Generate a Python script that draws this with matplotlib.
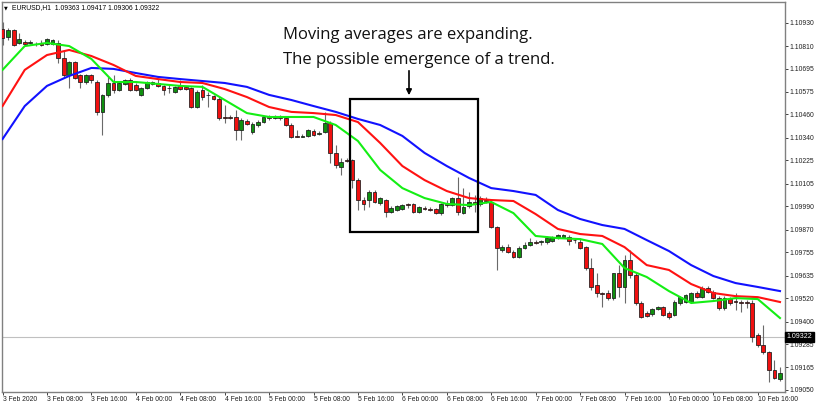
import matplotlib
matplotlib.use('Agg')
import matplotlib.pyplot as plt
import matplotlib.transforms as mtransforms
from matplotlib.patches import Rectangle

# EURUSD H1, 3 Feb 2020 00:00 .. 10 Feb 2020 20:00 (one bar per hour)
opens = [
    1.10898, 1.10857, 1.10892, 1.10826, 1.10831, 1.10828, 1.10821, 1.10826, 1.10821, 1.10821,
    1.10826, 1.10749, 1.10662, 1.10729, 1.10662, 1.10626, 1.10662, 1.10626, 1.10473, 1.10560,
    1.10621, 1.10585, 1.10616, 1.10636, 1.10611, 1.10560, 1.10595, 1.10616, 1.10621, 1.10606,
    1.10595, 1.10575, 1.10606, 1.10601, 1.10595, 1.10498, 1.10585, 1.10560, 1.10554, 1.10539,
    1.10447, 1.10447, 1.10447, 1.10380, 1.10426, 1.10370, 1.10406, 1.10421, 1.10447, 1.10444,
    1.10447, 1.10442, 1.10406, 1.10350, 1.10347, 1.10350, 1.10375, 1.10362, 1.10370, 1.10416,
    1.10263, 1.10191, 1.10227, 1.10227, 1.10124, 1.10022, 1.10022, 1.10063, 1.10007, 1.10022,
    1.09961, 1.09971, 1.09976, 1.10002, 1.10002, 1.09961, 1.09981, 1.09976, 1.09976, 1.09955,
    1.10002, 1.09996, 1.10032, 1.09955, 1.09991, 1.10012, 1.10002, 1.10022, 1.10012, 1.09884,
    1.09766, 1.09781, 1.09756, 1.09730, 1.09776, 1.09792, 1.09807, 1.09807, 1.09807, 1.09812,
    1.09827, 1.09833, 1.09833, 1.09817, 1.09807, 1.09781, 1.09674, 1.09587, 1.09546, 1.09546,
    1.09520, 1.09648, 1.09577, 1.09715, 1.09638, 1.09495, 1.09443, 1.09438, 1.09464, 1.09474,
    1.09443, 1.09433, 1.09495, 1.09500, 1.09500, 1.09546, 1.09525, 1.09571, 1.09551, 1.09520,
    1.09469, 1.09515, 1.09505, 1.09500, 1.09500, 1.09495, 1.09331, 1.09280, 1.09244, 1.09152,
    1.09106,
]
highs = [
    1.10933, 1.10903, 1.10898, 1.10877, 1.10841, 1.10841, 1.10831, 1.10841, 1.10851, 1.10846,
    1.10841, 1.10790, 1.10734, 1.10734, 1.10667, 1.10667, 1.10667, 1.10636, 1.10565, 1.10652,
    1.10662, 1.10626, 1.10641, 1.10647, 1.10621, 1.10601, 1.10631, 1.10631, 1.10641, 1.10611,
    1.10611, 1.10606, 1.10636, 1.10606, 1.10601, 1.10585, 1.10611, 1.10575, 1.10560, 1.10549,
    1.10508, 1.10457, 1.10483, 1.10442, 1.10437, 1.10421, 1.10432, 1.10452, 1.10457, 1.10457,
    1.10457, 1.10452, 1.10416, 1.10380, 1.10360, 1.10385, 1.10385, 1.10375, 1.10473, 1.10426,
    1.10304, 1.10237, 1.10237, 1.10232, 1.10135, 1.10037, 1.10073, 1.10073, 1.10037, 1.10027,
    1.09991, 1.09996, 1.10002, 1.10007, 1.10007, 1.09991, 1.09991, 1.09986, 1.09981, 1.10007,
    1.10022, 1.10037, 1.10140, 1.10083, 1.10063, 1.10048, 1.10043, 1.10037, 1.10022, 1.09889,
    1.09792, 1.09797, 1.09766, 1.09786, 1.09807, 1.09827, 1.09817, 1.09817, 1.09838, 1.09838,
    1.09848, 1.09848, 1.09843, 1.09827, 1.09827, 1.09786, 1.09725, 1.09648, 1.09551, 1.09561,
    1.09648, 1.09689, 1.09740, 1.09766, 1.09648, 1.09505, 1.09454, 1.09469, 1.09479, 1.09479,
    1.09454, 1.09510, 1.09530, 1.09541, 1.09551, 1.09556, 1.09582, 1.09582, 1.09561, 1.09530,
    1.09530, 1.09525, 1.09546, 1.09510, 1.09510, 1.09510, 1.09341, 1.09382, 1.09249, 1.09203,
    1.09167,
]
lows = [
    1.10816, 1.10841, 1.10810, 1.10821, 1.10816, 1.10821, 1.10810, 1.10810, 1.10816, 1.10816,
    1.10723, 1.10647, 1.10595, 1.10641, 1.10595, 1.10616, 1.10621, 1.10457, 1.10355, 1.10549,
    1.10570, 1.10580, 1.10611, 1.10580, 1.10580, 1.10554, 1.10590, 1.10611, 1.10601, 1.10560,
    1.10570, 1.10570, 1.10585, 1.10585, 1.10493, 1.10493, 1.10534, 1.10498, 1.10534, 1.10432,
    1.10416, 1.10437, 1.10329, 1.10329, 1.10406, 1.10360, 1.10396, 1.10416, 1.10432, 1.10437,
    1.10432, 1.10401, 1.10339, 1.10345, 1.10345, 1.10345, 1.10350, 1.10355, 1.10365, 1.10211,
    1.10186, 1.10150, 1.10217, 1.10083, 1.09971, 1.09971, 1.09986, 1.10007, 1.09996, 1.09935,
    1.09955, 1.09966, 1.09971, 1.09981, 1.09955, 1.09955, 1.09971, 1.09966, 1.09950, 1.09945,
    1.09986, 1.09991, 1.09945, 1.09950, 1.09981, 1.09961, 1.09991, 1.10007, 1.09879, 1.09664,
    1.09756, 1.09751, 1.09725, 1.09725, 1.09771, 1.09786, 1.09797, 1.09792, 1.09797, 1.09807,
    1.09822, 1.09827, 1.09792, 1.09802, 1.09771, 1.09664, 1.09561, 1.09525, 1.09474, 1.09510,
    1.09510, 1.09525, 1.09495, 1.09623, 1.09484, 1.09418, 1.09423, 1.09428, 1.09459, 1.09428,
    1.09413, 1.09428, 1.09484, 1.09495, 1.09495, 1.09520, 1.09520, 1.09546, 1.09515, 1.09459,
    1.09459, 1.09484, 1.09459, 1.09449, 1.09469, 1.09295, 1.09269, 1.09234, 1.09090, 1.09106,
    1.09095,
]
closes = [
    1.10851, 1.10892, 1.10816, 1.10846, 1.10821, 1.10831, 1.10818, 1.10813, 1.10846, 1.10841,
    1.10749, 1.10662, 1.10729, 1.10647, 1.10626, 1.10662, 1.10636, 1.10473, 1.10560, 1.10621,
    1.10585, 1.10621, 1.10636, 1.10585, 1.10585, 1.10595, 1.10626, 1.10626, 1.10606, 1.10585,
    1.10593, 1.10601, 1.10590, 1.10590, 1.10498, 1.10575, 1.10549, 1.10557, 1.10539, 1.10442,
    1.10444, 1.10444, 1.10380, 1.10432, 1.10411, 1.10411, 1.10421, 1.10447, 1.10444, 1.10447,
    1.10444, 1.10406, 1.10345, 1.10347, 1.10350, 1.10380, 1.10355, 1.10365, 1.10416, 1.10263,
    1.10201, 1.10217, 1.10224, 1.10124, 1.10022, 1.10002, 1.10063, 1.10012, 1.10032, 1.09961,
    1.09981, 1.09991, 1.09996, 1.09999, 1.09961, 1.09986, 1.09978, 1.09973, 1.09955, 1.10002,
    1.09999, 1.10032, 1.09961, 1.09986, 1.10012, 1.10002, 1.10032, 1.10019, 1.09884, 1.09776,
    1.09781, 1.09756, 1.09730, 1.09776, 1.09792, 1.09807, 1.09804, 1.09810, 1.09827, 1.09833,
    1.09843, 1.09843, 1.09812, 1.09815, 1.09776, 1.09674, 1.09577, 1.09546, 1.09541, 1.09520,
    1.09648, 1.09577, 1.09715, 1.09638, 1.09495, 1.09423, 1.09428, 1.09464, 1.09474, 1.09433,
    1.09423, 1.09500, 1.09525, 1.09536, 1.09546, 1.09525, 1.09571, 1.09551, 1.09520, 1.09469,
    1.09520, 1.09495, 1.09502, 1.09497, 1.09497, 1.09321, 1.09280, 1.09244, 1.09152, 1.09111,
    1.09136,
]

# moving averages, read every 4 bars
ma_bars = list(range(0, 141, 4))
ma_fast = [
    1.10688, 1.10810, 1.10826, 1.10810, 1.10744, 1.10626, 1.10626, 1.10616, 1.10606, 1.10601,
    1.10534, 1.10467, 1.10447, 1.10447, 1.10447, 1.10406, 1.10324, 1.10176, 1.10083, 1.10032,
    1.10002, 1.09996, 1.10012, 1.09955, 1.09838, 1.09827, 1.09822, 1.09797, 1.09674, 1.09628,
    1.09556, 1.09495, 1.09505, 1.09520, 1.09515, 1.09418,
]
ma_mid = [
    1.10503, 1.10688, 1.10764, 1.10790, 1.10759, 1.10713, 1.10657, 1.10641, 1.10626, 1.10621,
    1.10590, 1.10549, 1.10498, 1.10473, 1.10467, 1.10457, 1.10421, 1.10314, 1.10196, 1.10124,
    1.10068, 1.10032, 1.10022, 1.10017, 1.09950, 1.09874, 1.09848, 1.09838, 1.09781, 1.09689,
    1.09664, 1.09592, 1.09546, 1.09530, 1.09525, 1.09500,
]
ma_slow = [
    1.10334, 1.10503, 1.10606, 1.10657, 1.10698, 1.10693, 1.10672, 1.10652, 1.10641, 1.10631,
    1.10621, 1.10601, 1.10560, 1.10534, 1.10503, 1.10473, 1.10437, 1.10406, 1.10350, 1.10263,
    1.10196, 1.10135, 1.10083, 1.10068, 1.10048, 1.09971, 1.09925, 1.09894, 1.09874, 1.09817,
    1.09761, 1.09689, 1.09633, 1.09597, 1.09577, 1.09556,
]

time_labels = [
    '3 Feb 2020', '3 Feb 08:00', '3 Feb 16:00', '4 Feb 00:00', '4 Feb 08:00', '4 Feb 16:00',
    '5 Feb 00:00', '5 Feb 08:00', '5 Feb 16:00', '6 Feb 00:00', '6 Feb 08:00', '6 Feb 16:00',
    '7 Feb 00:00', '7 Feb 08:00', '7 Feb 16:00', '10 Feb 00:00', '10 Feb 08:00', '10 Feb 16:00',
]
price_ticks = [
    1.10930, 1.10810, 1.10695, 1.10575, 1.10460, 1.10340, 1.10225, 1.10105, 1.09990,
    1.09870, 1.09755, 1.09635, 1.09520, 1.09400, 1.09285, 1.09165, 1.09050,
]
last_price = 1.09322
header = 'EURUSD,H1  1.09363 1.09417 1.09306 1.09322'

small = ['Liberation Sans', 'DejaVu Sans']
W, H = 817, 407

fig = plt.figure(figsize=(W / 100, H / 100), dpi=100)
ax = fig.add_axes([1.7 / W, (H - 391.7) / H, (785 - 1.7) / W, (391.7 - 1.7) / H])

n = len(closes)
body_w = 0.68
for i in range(n):
    o, h, l, c = opens[i], highs[i], lows[i], closes[i]
    ax.vlines(i, l, h, color='#6a6a6a', lw=0.8, zorder=2)
    col = '#0f900f' if c >= o else '#f01010'
    ax.bar(i, max(abs(c - o), 0.000015), body_w, bottom=min(o, c),
           color=col, edgecolor='#1a1a1a', lw=0.55, zorder=3)

ax.plot(ma_bars, ma_slow, color='#1212ff', lw=1.5, zorder=4)
ax.plot(ma_bars, ma_mid, color='#ff1212', lw=1.5, zorder=4)
ax.plot(ma_bars, ma_fast, color='#14ee14', lw=1.5, zorder=4)

# current price line and label
ax.axhline(last_price, color='#c0c0c0', lw=0.8, zorder=1)
trans = mtransforms.blended_transform_factory(ax.transAxes, ax.transData)
ax.text(1.002, last_price, '%.5f' % last_price, transform=trans, color='white',
        fontsize=5, family=small, va='center', ha='left', zorder=6,
        bbox=dict(boxstyle='square,pad=0.25', fc='black', ec='black'), clip_on=False)

ax.set_xlim(-0.15, 140.9)
ax.set_ylim(1.09041, 1.11037)

ax.set_xticks(list(range(0, 8 * len(time_labels), 8)))
ax.set_xticklabels(time_labels, ha='left', family=small, fontsize=4.9)
ax.yaxis.tick_right()
ax.set_yticks(price_ticks)
ax.set_yticklabels(['%.5f' % p for p in price_ticks], family=small, fontsize=4.9)
ax.tick_params(axis='x', length=2.5, width=0.6, pad=0.3, colors='#202020')
ax.tick_params(axis='y', length=2, width=0.6, pad=1, colors='#202020')
for s in ax.spines.values():
    s.set_color('#808080')
    s.set_linewidth(1.0)

# marked region
ax.add_patch(Rectangle((62.6, 1.09858), 23.0, 1.10539 - 1.09858, fill=False,
                       ec='black', lw=1.6, zorder=5))

# header and comment text
fig.text(4 / W, 1 - 9.5 / H, '\u25bc', fontsize=3.5, family='DejaVu Sans', va='baseline')
fig.text(12 / W, 1 - 9.5 / H, header, fontsize=4.9, family=small, va='baseline')
fig.text(283 / W, 1 - 39.3 / H, 'Moving averages are expanding.', fontsize=12,
         family='Open Sans', va='baseline', color='#111111')
fig.text(283 / W, 1 - 64.3 / H, 'The possible emergence of a trend.', fontsize=12,
         family='Open Sans', va='baseline', color='#111111')
ax.annotate('', xy=(409, H - 98), xytext=(409, H - 68), xycoords='figure pixels',
            textcoords='figure pixels',
            arrowprops=dict(arrowstyle='-|>', color='black', lw=1.2, mutation_scale=8))

fig.savefig('out.png', dpi=100)
